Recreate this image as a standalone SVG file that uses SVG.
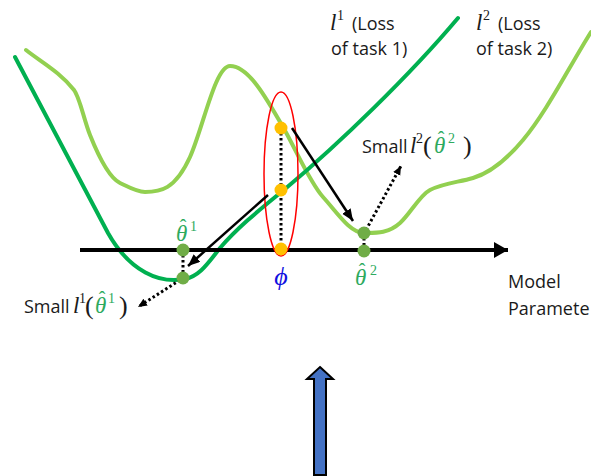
<svg xmlns="http://www.w3.org/2000/svg" width="591" height="476" viewBox="0 0 591 476">
<style>
.curve{fill:none;stroke-width:4;stroke-linecap:round;stroke-linejoin:round}
.l1{stroke:#00B050}
.l2{stroke:#92D050}
.dot{stroke:none}
.gd{fill:#70AD47}
.od{fill:#FFC000}
.dotted{stroke:#000;stroke-width:3;stroke-dasharray:2.5 2.5;fill:none}
.solid{stroke:#000;stroke-width:2.5;fill:none}
.lbl{font-family:"Open Sans","Liberation Sans",sans-serif;font-size:18px;fill:#1a1a1a}
.m{font-family:"Liberation Serif",serif;font-style:italic;font-size:23px}
.hat{font-family:"Liberation Serif",serif;font-size:20px;font-style:normal;text-anchor:middle}
.sup{font-family:"Liberation Serif",serif;font-size:14px;font-style:normal}
.par{font-family:"Liberation Serif",serif;font-size:26px;font-style:normal}
.k{fill:#1a1a1a}
.g{fill:#2EAA5E}
</style>
<defs>
<marker id="ah" markerUnits="userSpaceOnUse" markerWidth="14" markerHeight="12" refX="12" refY="5" orient="auto">
<path d="M0,0 L12,5 L0,10 Z" fill="#000"/>
</marker>
<marker id="ahs" markerUnits="userSpaceOnUse" markerWidth="12" markerHeight="10" refX="9" refY="4" orient="auto">
<path d="M0,0 L9,4 L0,8 Z" fill="#000"/>
</marker>
<marker id="axh" markerUnits="userSpaceOnUse" markerWidth="16" markerHeight="18" refX="14" refY="8" orient="auto">
<path d="M0,0 L14,8 L0,16 Z" fill="#000"/>
</marker>
</defs>

<g id="curve-l2">
<path class="curve l2" d="M26,50 C41,62 60,72 74,90 C80,98 83.6,119 90,135 C96.4,151 108,177 120,183 C128.3,187 137,192 145,192 C160,192 175,190 190,157 C203,128.4 215,66 230,66 C248,66 265,95.5 283,127 C296,149.75 310,182.7 323,197 C337,212.4 350,233 364,233 C376,233 388,233.8 400,223 C410,214 420,195 430,190 C444,183 459,182.2 473,178 C490,173 506,160.4 523,140 C546,112.8 569,67.2 591,32"/>
</g>
<g id="curve-l1">
<path class="curve l1" d="M15,57 L108,233 C130,272 160,284 185,279 C200,276 208,263 220,248 C240,225 262,208 285,189 C340,143 410,75 458,18"/>
</g>

<g id="axis">
<line x1="80" y1="250" x2="508" y2="250" stroke="#000" stroke-width="4" marker-end="url(#axh)"/>
</g>

<g id="phi-ellipse">
<ellipse cx="281" cy="174" rx="17" ry="82" fill="none" stroke="#FF0000" stroke-width="1.5"/>
</g>

<g id="connectors">
<line class="dotted" x1="281" y1="128" x2="281" y2="248"/>
<line class="dotted" x1="183" y1="250" x2="183" y2="277"/>
<line class="dotted" x1="364" y1="233" x2="364" y2="251"/>
<line class="dotted" x1="180" y1="280" x2="138" y2="307" marker-end="url(#ahs)"/>
<line class="dotted" x1="366" y1="230" x2="401" y2="166" marker-end="url(#ahs)"/>
<line class="solid" x1="292" y1="128" x2="353" y2="221" marker-end="url(#ah)"/>
<line class="solid" x1="268" y1="195" x2="188" y2="266" marker-end="url(#ah)"/>
</g>

<g id="dots">
<circle class="dot gd" cx="183" cy="250" r="6.5"/>
<circle class="dot gd" cx="183" cy="278" r="6.5"/>
<circle class="dot gd" cx="364" cy="233" r="6.5"/>
<circle class="dot gd" cx="364" cy="251" r="6.5"/>
<circle class="dot od" cx="281" cy="128" r="6.5"/>
<circle class="dot od" cx="281" cy="190" r="6.5"/>
<circle class="dot od" cx="281" cy="249" r="6.5"/>
</g>

<g id="label-l1">
<text y="30"><tspan class="m k" x="330">l</tspan><tspan class="sup k" x="337" y="20">1</tspan><tspan class="lbl" x="352" y="30">(Loss</tspan></text>
<text class="lbl" x="331" y="55">of task 1)</text>
</g>
<g id="label-l2">
<text y="30"><tspan class="m k" x="476">l</tspan><tspan class="sup k" x="483" y="20">2</tspan><tspan class="lbl" x="498" y="30">(Loss</tspan></text>
<text class="lbl" x="476" y="55">of task 2)</text>
</g>

<g id="label-small1">
<text y="313"><tspan class="lbl" x="24">Small</tspan><tspan class="m k" x="73">l</tspan><tspan class="sup k" x="79" y="303">1</tspan><tspan class="par k" x="85" y="314">(</tspan><tspan class="m g" x="95" y="313">θ</tspan><tspan class="hat g" x="102" y="306">ˆ</tspan><tspan class="sup g" x="108" y="303">1</tspan><tspan class="par k" x="119" y="314">)</tspan></text>
</g>
<g id="label-small2">
<text y="153"><tspan class="lbl" x="362">Small</tspan><tspan class="m k" x="410">l</tspan><tspan class="sup k" x="416" y="143">2</tspan><tspan class="par k" x="423" y="154">(</tspan><tspan class="m g" x="434" y="153">θ</tspan><tspan class="hat g" x="441" y="146">ˆ</tspan><tspan class="sup g" x="448" y="143">2</tspan><tspan class="par k" x="463" y="154">)</tspan></text>
</g>

<g id="label-theta1">
<text y="241"><tspan class="m g" x="176">θ</tspan><tspan class="hat g" x="183" y="234">ˆ</tspan><tspan class="sup g" x="190" y="231">1</tspan></text>
</g>
<g id="label-theta2">
<text y="285"><tspan class="m g" x="355">θ</tspan><tspan class="hat g" x="362" y="278">ˆ</tspan><tspan class="sup g" x="370" y="275">2</tspan></text>
</g>
<g id="label-phi">
<text class="m" x="281" y="285" text-anchor="middle" style="fill:#1010E0;font-size:26px">ϕ</text>
</g>
<g id="label-axis">
<text class="lbl" x="508" y="288">Model</text>
<text class="lbl" x="508" y="315">Paramete</text>
</g>

<g id="blue-arrow">
<polygon points="320,367 333,379 326,379 326,475 314,475 314,379 307,379" fill="#4472C4" stroke="#000" stroke-width="2" stroke-linejoin="miter"/>
</g>
</svg>
